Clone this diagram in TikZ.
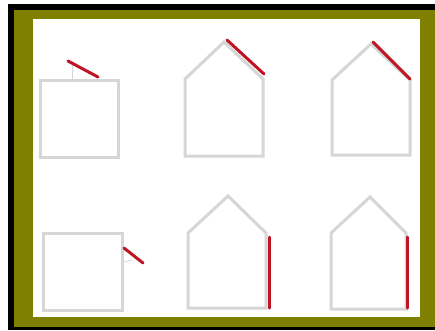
\documentclass[tikz,border=0pt]{standalone}
\usepackage{tikz}
\usetikzlibrary{calc}
\usepackage{xcolor}
\definecolor{frameolive}{HTML}{808000}
\definecolor{wallgray}{HTML}{D6D6D6}
\definecolor{markred}{HTML}{BE1622}
\tikzset{
  wall/.style={draw=wallgray,line width=3pt,line join=miter},
  thinwall/.style={draw=wallgray,line width=0.8pt},
  redline/.style={draw=markred,line width=3pt,line cap=round}
}
\begin{document}
\begin{tikzpicture}[x=1pt,y=-1pt]
  \useasboundingbox (0,0) rectangle (435,330);
  % frame
  \fill[black] (8,4) rectangle (435,330);
  \fill[frameolive] (14,10) rectangle (435,327);
  \fill[white] (33,19) rectangle (420,317);
  % top row
  \draw[wall] (40,80) rectangle (118,157);
  \draw[thinwall] (72,65) -- (72,80);
  \draw[redline] (68,61) -- (98,77);
  \draw[wall] (185,79) -- (224,42) -- (263,79) -- (263,156) -- (185,156) -- cycle;
  \draw[redline] (227,40) -- (264,74);
  \draw[wall] (332,80) -- (371,44) -- (410,80) -- (410,155) -- (332,155) -- cycle;
  \draw[redline] (373,42) -- (410,79);
  % bottom row
  \draw[wall] (43,233) rectangle (122,310);
  \draw[thinwall] (123,262) -- (132,260);
  \draw[redline] (124,248) -- (143,263);
  \draw[wall] (188,233) -- (228,196) -- (266,233) -- (266,308) -- (188,308) -- cycle;
  \draw[redline] (269,237) -- (269,308);
  \draw[wall] (331,233) -- (370,197) -- (406,233) -- (406,309) -- (331,309) -- cycle;
  \draw[redline] (407,237) -- (407,308);
\end{tikzpicture}
\end{document}
